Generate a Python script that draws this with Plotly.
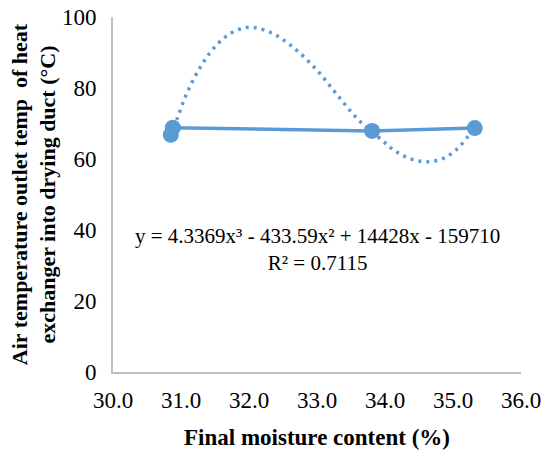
import plotly.graph_objects as go

# Observed data
moisture = [30.85, 30.88, 33.81, 35.32]
temperature = [66.8, 68.8, 67.9, 68.7]

# Polynomial trendline
trend_x = [30.85, 30.94, 31.07, 31.24, 31.45, 31.72, 32.0, 32.32, 32.64, 33.0,
           33.3, 33.6, 33.95, 34.14, 34.37, 34.61, 34.85, 35.06, 35.22, 35.32]
trend_y = [66.8, 71.2, 77.8, 84.4, 90.5, 95.3, 97.1, 95.6, 91.6, 85.0,
           78.0, 71.2, 65.4, 62.4, 60.1, 59.2, 60.1, 62.8, 66.4, 68.7]

equation = "y = 4.3369x³ - 433.59x² + 14428x - 159710<br>R² = 0.7115"
x_ticks = [30, 31, 32, 33, 34, 35, 36]
x_labels = ["30.0", "31.0", "32.0", "33.0", "34.0", "35.0", "36.0"]
y_ticks = [0, 20, 40, 60, 80, 100]

blue = "#5B9BD5"
font = "Liberation Serif, Times New Roman, serif"

fig = go.Figure()
fig.add_trace(go.Scatter(
    x=trend_x, y=trend_y, mode="lines",
    line=dict(color=blue, width=3.5, dash="3px,5px", shape="spline"),
    showlegend=False, cliponaxis=False,
))
fig.add_trace(go.Scatter(
    x=moisture, y=temperature, mode="lines+markers",
    line=dict(color=blue, width=3.5),
    marker=dict(color=blue, size=16),
    showlegend=False, cliponaxis=False,
))

fig.add_annotation(
    x=33.0, y=34.6, xref="x", yref="y", text=equation, showarrow=False,
    font=dict(family=font, size=21, color="#000000"), align="center",
)

fig.update_layout(
    width=544, height=450,
    margin=dict(l=113, r=23, t=17, b=78),
    paper_bgcolor="white", plot_bgcolor="white",
    font=dict(family=font, size=23, color="#000000"),
    xaxis=dict(
        range=[30, 36], tickvals=x_ticks, ticktext=x_labels,
        showgrid=False, zeroline=False, showline=True,
        linecolor="#BFBFBF", linewidth=2, ticks="",
        ticklabelstandoff=6, automargin=False,
        tickfont=dict(family=font, size=23, color="#000000"),
        title=dict(text="<b>Final moisture content (%)</b>",
                   font=dict(family=font, size=23, color="#000000"), standoff=19),
    ),
    yaxis=dict(
        range=[0, 100], tickvals=y_ticks,
        showgrid=False, zeroline=False, showline=True,
        linecolor="#BFBFBF", linewidth=2, ticks="",
        ticklabelstandoff=10, automargin=False,
        tickfont=dict(family=font, size=23, color="#000000"),
        title=dict(text="<b>Air temperature outlet temp  of heat<br>exchanger into drying duct (°C)</b>",
                   font=dict(family=font, size=22, color="#000000"), standoff=0),
    ),
)

fig.write_html("out.html")
